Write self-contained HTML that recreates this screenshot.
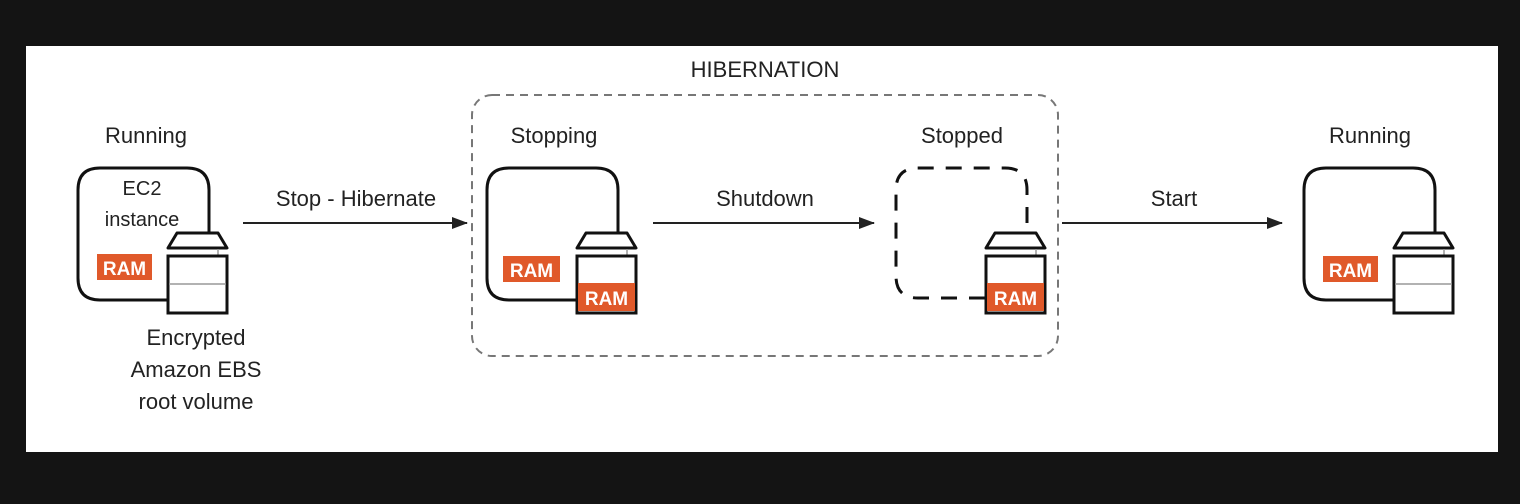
<!DOCTYPE html>
<html><head><style>
html,body{margin:0;padding:0;background:#141414;}
svg{display:block;}
text{font-family:"Liberation Sans",Arial,sans-serif;fill:#222;}
</style></head><body>
<svg width="1520" height="504" viewBox="0 0 1520 504" xmlns="http://www.w3.org/2000/svg">
<defs>
<marker id="ah" markerWidth="16" markerHeight="12" refX="15" refY="6" orient="auto" markerUnits="userSpaceOnUse">
<path d="M0,0 L16,6 L0,12 Z" fill="#222"/></marker>
<g id="vol">
<path d="M9,0 L50,0 L59,15 L0,15 Z" fill="#fff" stroke="#111" stroke-width="3" stroke-linejoin="round"/>
<line x1="50" y1="16" x2="50" y2="23" stroke="#999" stroke-width="1.5"/>
<rect x="0" y="23" width="59" height="57" fill="#fff" stroke="#111" stroke-width="3"/>
</g>
</defs>
<rect x="0" y="0" width="1520" height="504" fill="#141414"/>
<rect x="26" y="46" width="1472" height="406" fill="#fff"/>

<text x="765" y="77" font-size="22" text-anchor="middle">HIBERNATION</text>
<rect x="472" y="95" width="586" height="261" rx="20" fill="none" stroke="#777" stroke-width="2" stroke-dasharray="8,6"/>

<!-- Running 1 -->
<text x="146" y="143" font-size="22" text-anchor="middle">Running</text>
<path d="M167,300 L100,300 Q78,300 78,278 L78,190 Q78,168 100,168 L187,168 Q209,168 209,190 L209,233" fill="none" stroke="#111" stroke-width="3"/>
<text x="142" y="195" font-size="20" text-anchor="middle" fill="#333">EC2</text>
<text x="142" y="226" font-size="20" text-anchor="middle" fill="#333">instance</text>
<rect x="97" y="254" width="55" height="26" fill="#e0592a"/>
<text x="124.5" y="275" font-size="19" font-weight="bold" text-anchor="middle" style="fill:#fff">RAM</text>
<use href="#vol" x="168" y="233"/>
<line x1="169" y1="284" x2="226" y2="284" stroke="#999" stroke-width="1.5"/>
<text x="196" y="345" font-size="22" text-anchor="middle">Encrypted</text>
<text x="196" y="377" font-size="22" text-anchor="middle">Amazon EBS</text>
<text x="196" y="409" font-size="22" text-anchor="middle">root volume</text>

<text x="356" y="206" font-size="22" text-anchor="middle">Stop - Hibernate</text>
<line x1="243" y1="223" x2="467" y2="223" stroke="#222" stroke-width="2" marker-end="url(#ah)"/>

<!-- Stopping -->
<text x="554" y="143" font-size="22" text-anchor="middle">Stopping</text>
<path d="M577,300 L509,300 Q487,300 487,278 L487,190 Q487,168 509,168 L596,168 Q618,168 618,190 L618,233" fill="none" stroke="#111" stroke-width="3"/>
<rect x="503" y="256" width="57" height="26" fill="#e0592a"/>
<text x="531.5" y="277" font-size="19" font-weight="bold" text-anchor="middle" style="fill:#fff">RAM</text>
<use href="#vol" x="577" y="233"/>
<rect x="578" y="283" width="57" height="28" fill="#e0592a"/>
<text x="606.5" y="305" font-size="19" font-weight="bold" text-anchor="middle" style="fill:#fff">RAM</text>

<text x="765" y="206" font-size="22" text-anchor="middle">Shutdown</text>
<line x1="653" y1="223" x2="874" y2="223" stroke="#222" stroke-width="2" marker-end="url(#ah)"/>

<!-- Stopped -->
<text x="962" y="143" font-size="22" text-anchor="middle">Stopped</text>
<path d="M985,298 L918,298 Q896,298 896,276 L896,190 Q896,168 918,168 L1005,168 Q1027,168 1027,190 L1027,233" fill="none" stroke="#111" stroke-width="3" stroke-dasharray="16,12"/>
<use href="#vol" x="986" y="233"/>
<rect x="987" y="283" width="57" height="28" fill="#e0592a"/>
<text x="1015.5" y="305" font-size="19" font-weight="bold" text-anchor="middle" style="fill:#fff">RAM</text>

<text x="1174" y="206" font-size="22" text-anchor="middle">Start</text>
<line x1="1062" y1="223" x2="1282" y2="223" stroke="#222" stroke-width="2" marker-end="url(#ah)"/>

<!-- Running 2 -->
<text x="1370" y="143" font-size="22" text-anchor="middle">Running</text>
<path d="M1393,300 L1326,300 Q1304,300 1304,278 L1304,190 Q1304,168 1326,168 L1413,168 Q1435,168 1435,190 L1435,233" fill="none" stroke="#111" stroke-width="3"/>
<rect x="1323" y="256" width="55" height="26" fill="#e0592a"/>
<text x="1350.5" y="277" font-size="19" font-weight="bold" text-anchor="middle" style="fill:#fff">RAM</text>
<use href="#vol" x="1394" y="233"/>
<line x1="1395" y1="284" x2="1452" y2="284" stroke="#999" stroke-width="1.5"/>
</svg>
</body></html>
